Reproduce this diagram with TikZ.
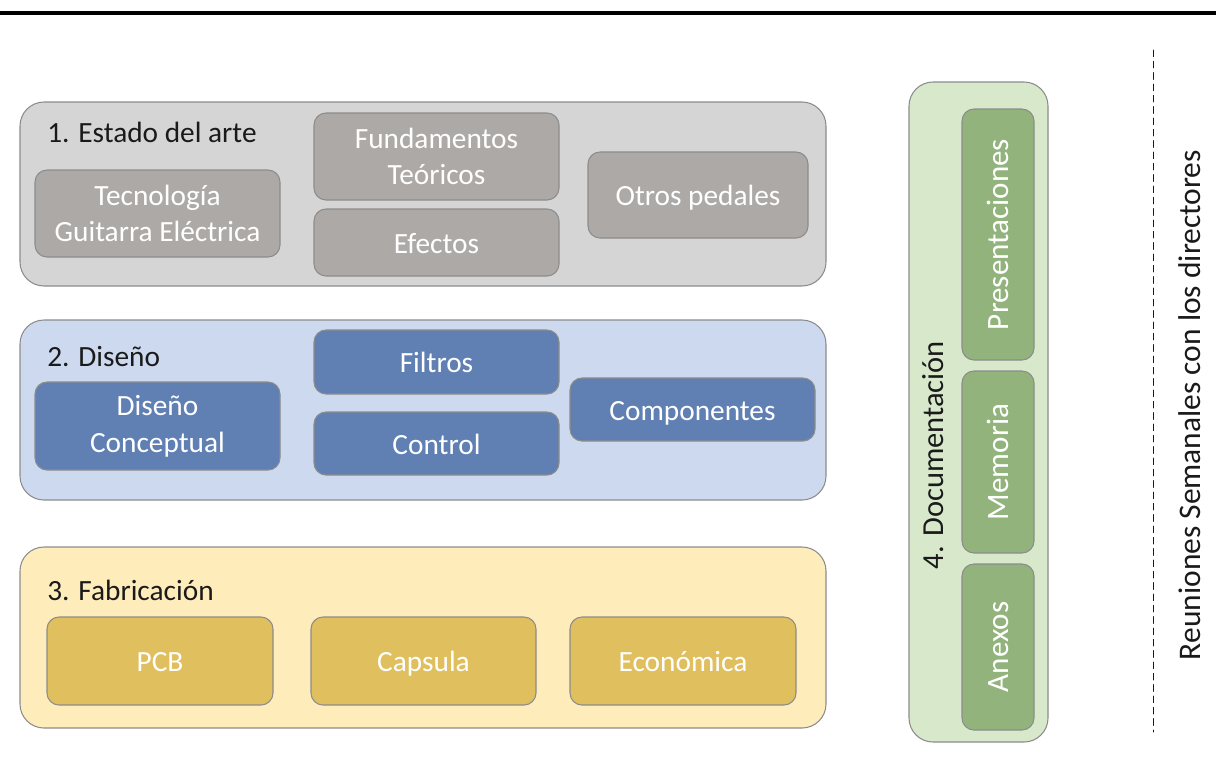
\documentclass[tikz,border=0pt]{standalone}
\usepackage{fontspec}
\setmainfont{Carlito}
\usepackage{xcolor}
\definecolor{grisfondo}{HTML}{D5D5D5}
\definecolor{grisbloque}{HTML}{ADA9A6}
\definecolor{azulfondo}{HTML}{CDD9EE}
\definecolor{azulbloque}{HTML}{6080B4}
\definecolor{amarfondo}{HTML}{FEECBA}
\definecolor{amarbloque}{HTML}{DFBF5E}
\definecolor{verdefondo}{HTML}{D8E9CB}
\definecolor{verdebloque}{HTML}{92B47C}
\definecolor{borde}{HTML}{8C8C8C}
\definecolor{titulo}{HTML}{1A1A1A}

\begin{document}
\begin{tikzpicture}[line cap=round,line join=round,x=0.75pt,y=-0.75pt,
    fuente/.style={font=\fontsize{22}{27.5}\selectfont},
    fuentev/.style={font=\fontsize{23.3}{28}\selectfont},
    etapa/.style={draw=borde,line width=0.8pt,rounded corners=18pt},
    tarea/.style={draw=borde,line width=0.8pt,rounded corners=9pt,fuente,text=white,
      align=center,inner sep=0pt},
    unalinea/.style={text height=20pt,text depth=3.8pt},
    vertical/.style={tarea,fill=verdebloque,rotate=90,fuentev,unalinea,minimum height=54pt},
    rotulo/.style={fuente,text=titulo,inner sep=0pt}]
  \useasboundingbox (0,0) rectangle (1216,769);
  % linea superior
  \draw [line width=3pt,line cap=butt] (0,12.5) -- (1216,12.5);
  % 1. Estado del arte
  \draw [etapa,fill=grisfondo] (20,102) rectangle (826,286);
  \node [rotulo,anchor=west] (estado) at (47,132) {1. Estado del arte};
  \node [tarea,fill=grisbloque,minimum width=183.75pt,minimum height=65.25pt] (tecno) at (157.5,213.5) {Tecnología\\Guitarra Eléctrica};
  \node [tarea,fill=grisbloque,minimum width=183.75pt,minimum height=65.25pt] (fund) at (436.5,156.5) {Fundamentos\\Teóricos};
  \node [tarea,unalinea,fill=grisbloque,minimum width=183.75pt,minimum height=50.25pt] (efectos) at (436.5,242.5) {Efectos};
  \node [tarea,unalinea,fill=grisbloque,minimum width=165pt,minimum height=64.5pt] (otros) at (698,195) {Otros pedales};
  % 2. Diseno
  \draw [etapa,fill=azulfondo] (20,320) rectangle (826,500);
  \node [rotulo,anchor=west] (diseno) at (47,357) {2. Diseño};
  \node [tarea,fill=azulbloque,minimum width=183.75pt,minimum height=66pt] (concep) at (157.5,426) {Diseño\\Conceptual};
  \node [tarea,unalinea,fill=azulbloque,minimum width=183.75pt,minimum height=48pt] (filtros) at (436.5,362) {Filtros};
  \node [tarea,unalinea,fill=azulbloque,minimum width=183.75pt,minimum height=47.25pt] (control) at (436.5,443.5) {Control};
  \node [tarea,unalinea,fill=azulbloque,minimum width=183.75pt,minimum height=47.25pt] (compo) at (692.5,409.5) {Componentes};
  % 3. Fabricacion
  \draw [etapa,fill=amarfondo] (20,547) rectangle (826,728);
  \node [rotulo,anchor=west] (fabric) at (47,590) {3. Fabricación};
  \node [tarea,unalinea,fill=amarbloque,minimum width=169.5pt,minimum height=66pt] (pcb) at (160,661) {PCB};
  \node [tarea,unalinea,fill=amarbloque,minimum width=168.75pt,minimum height=66pt] (capsula) at (423.5,661) {Capsula};
  \node [tarea,unalinea,fill=amarbloque,minimum width=169.5pt,minimum height=66pt] (econo) at (683,661) {Económica};
  % 4. Documentacion
  \draw [etapa,fill=verdefondo] (909,82) rectangle (1048,742);
  \node [rotulo,rotate=90,font=\fontsize{22.9}{28}\selectfont] (docu) at (933,455) {4. Documentación};
  \node [vertical,minimum width=188.25pt] (present) at (998,234.5) {Presentaciones};
  \node [vertical,minimum width=136.5pt] (memoria) at (998,462) {Memoria};
  \node [vertical,minimum width=124.5pt] (anexos) at (998,647) {Anexos};
  % reuniones
  \draw [line width=0.7pt,dash pattern=on 5pt off 3.5pt,color=titulo] (1153.5,50) -- (1153.5,732);
  \node [rotulo,rotate=90,font=\fontsize{23.6}{28}\selectfont] (reuniones) at (1190,405) {Reuniones Semanales con los directores};
\end{tikzpicture}
\end{document}
